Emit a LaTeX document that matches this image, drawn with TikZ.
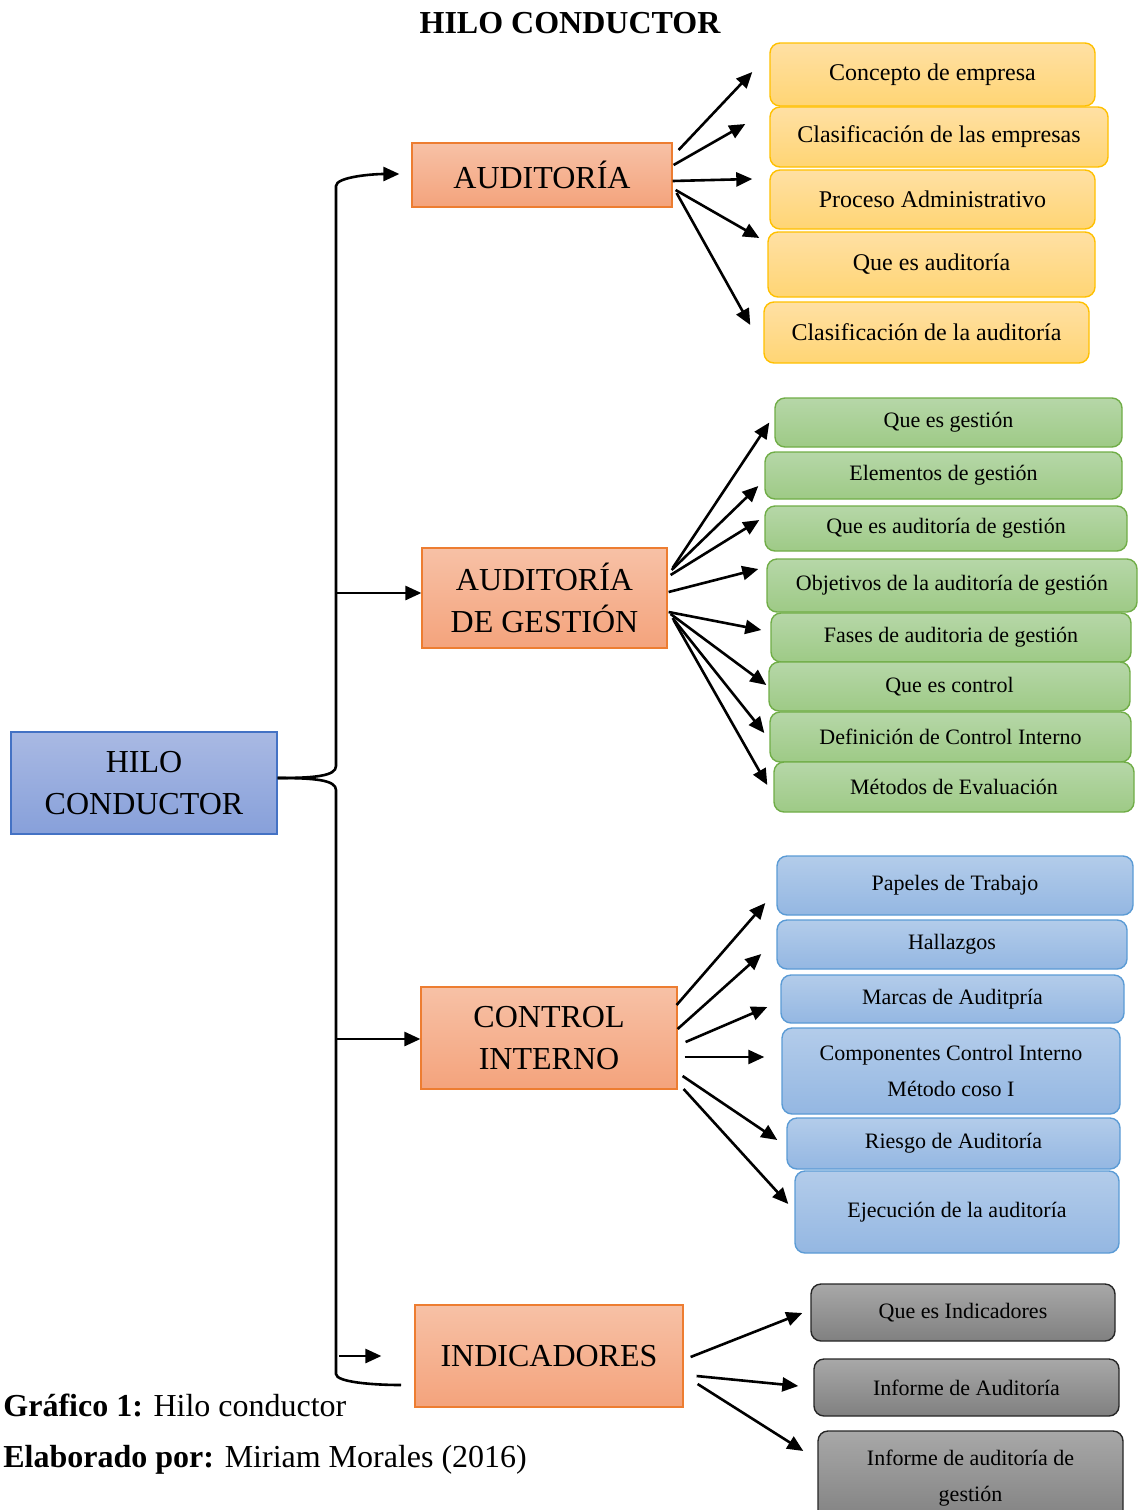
\documentclass[tikz,border=0pt]{standalone}
\usepackage{fontspec}
\setmainfont{Liberation Serif}
\usetikzlibrary{arrows.meta,calc}

\definecolor{naranjaA}{HTML}{F7C1A6}
\definecolor{naranjaB}{HTML}{F4A37C}
\definecolor{naranjaL}{HTML}{ED7D31}
\definecolor{hiloA}{HTML}{A9B9E3}
\definecolor{hiloB}{HTML}{87A0DA}
\definecolor{hiloL}{HTML}{4472C4}
\definecolor{amaA}{HTML}{FFE0A4}
\definecolor{amaB}{HTML}{FFD574}
\definecolor{amaL}{HTML}{FFC000}
\definecolor{verA}{HTML}{B6D7A8}
\definecolor{verB}{HTML}{9ECA86}
\definecolor{verL}{HTML}{70AD47}
\definecolor{azuA}{HTML}{B3CCEA}
\definecolor{azuB}{HTML}{94B7E2}
\definecolor{azuL}{HTML}{5B9BD5}
\definecolor{grisA}{HTML}{A8A8A8}
\definecolor{grisB}{HTML}{808080}
\definecolor{grisL}{HTML}{262626}

\tikzset{
  linea/.style={line width=1.3pt},
  arr/.style={linea, -{Triangle[length=8pt,width=7pt]}},
  tema/.style={draw=naranjaL, line width=0.6pt, top color=naranjaA, bottom color=naranjaB,
    align=center, inner sep=0pt, font=\fontsize{16}{21}\selectfont},
  sub/.style={rounded corners=5pt, line width=0.7pt, align=center, inner sep=0pt,
    font=\fontsize{11}{18}\selectfont},
  amarillo/.style={sub, draw=amaL, top color=amaA, bottom color=amaB, font=\fontsize{12}{14}\selectfont},
  verde/.style={sub, draw=verL, top color=verA, bottom color=verB},
  azul/.style={sub, draw=azuL, top color=azuA, bottom color=azuB},
  gris/.style={sub, draw=grisL, top color=grisA, bottom color=grisB},
}

\begin{document}
\begin{tikzpicture}[x=0.5pt, y=-0.5pt]
	\useasboundingbox (0,0) rectangle (1137,1510);
	
	% 1. titulo
	\node[font=\bfseries\fontsize{16}{19}\selectfont] (titulo) at (570,23) {HILO CONDUCTOR};
	
	% 2. nodo central y temas
	\node[draw=hiloL, line width=0.6pt, top color=hiloA, bottom color=hiloB, align=center, inner sep=0pt,
	  font=\fontsize{16}{21}\selectfont, minimum width=133pt, minimum height=51pt] (hilo) at (144,783) {HILO\\CONDUCTOR};
	\node[tema, minimum width=130pt, minimum height=32pt] (aud) at (542,175) {AUDITORÍA};
	\node[tema, minimum width=122.5pt, minimum height=50pt] (ag) at (544.5,598) {AUDITORÍA\\DE GESTIÓN};
	\node[tema, minimum width=128pt, minimum height=51pt] (ci) at (549,1038) {CONTROL\\INTERNO};
	\node[tema, minimum width=134pt, minimum height=51pt] (ind) at (549,1356) {INDICADORES};
	
	% 3. subtemas de auditoria
	\node[amarillo, minimum width=162.5pt, minimum height=31.5pt] (y1) at (932.5,74.5) {Concepto de empresa};
	\node[amarillo, minimum width=169pt, minimum height=30pt] (y2) at (939,137) {Clasificación de las empresas};
	\node[amarillo, minimum width=162.5pt, minimum height=29.5pt] (y3) at (932.5,199.5) {Proceso Administrativo};
	\node[amarillo, minimum width=163.5pt, minimum height=32.5pt] (y4) at (931.5,264.5) {Que es auditoría};
	\node[amarillo, minimum width=162.5pt, minimum height=30.5pt] (y5) at (926.5,332.5) {Clasificación de la auditoría};
	
	% 4. subtemas de auditoria de gestion
	\node[verde, minimum width=173.5pt, minimum height=24.5pt] (g1) at (948.5,422.5) {Que es gestión};
	\node[verde, minimum width=178.5pt, minimum height=23.5pt] (g2) at (943.5,475.5) {Elementos de gestión};
	\node[verde, minimum width=181pt, minimum height=22.5pt] (g3) at (946,528.5) {Que es auditoría de gestión};
	\node[verde, minimum width=185pt, minimum height=26.5pt] (g4) at (952,585.5) {Objetivos de la auditoría de gestión};
	\node[verde, minimum width=180pt, minimum height=24.5pt] (g5) at (951,637.5) {Fases de auditoria de gestión};
	\node[verde, minimum width=180.5pt, minimum height=24.5pt] (g6) at (949.5,686.5) {Que es control};
	\node[verde, minimum width=180.5pt, minimum height=25pt] (g7) at (950.5,737) {Definición de Control Interno};
	\node[verde, minimum width=180pt, minimum height=25pt] (g8) at (954,787) {Métodos de Evaluación};
	
	% 5. subtemas de control interno
	\node[azul, minimum width=178pt, minimum height=29.5pt] (b1) at (955,885.5) {Papeles de Trabajo};
	\node[azul, minimum width=175pt, minimum height=24.5pt] (b2) at (952,944.5) {Hallazgos};
	\node[azul, minimum width=171.5pt, minimum height=24pt] (b3) at (952.5,999) {Marcas de Auditpría};
	\node[azul, minimum width=169pt, minimum height=43pt] (b4) at (951,1071) {Componentes Control Interno\\Método coso I};
	\node[azul, minimum width=166.5pt, minimum height=25.5pt] (b5) at (953.5,1143.5) {Riesgo de Auditoría};
	\node[azul, minimum width=162pt, minimum height=41pt] (b6) at (957,1212) {Ejecución de la auditoría};
	
	% 6. subtemas de indicadores
	\node[gris, minimum width=152pt, minimum height=28.5pt] (k1) at (963,1312.5) {Que es Indicadores};
	\node[gris, minimum width=152.5pt, minimum height=28.5pt] (k2) at (966.5,1387.5) {Informe de Auditoría};
	\node[gris, minimum width=152.5pt, minimum height=47pt] (k3) at (970.5,1478) {Informe de auditoría de\\gestión};
	
	% 7. llave desde el hilo conductor
	\coordinate (hb) at ($(hilo.east)+(0,-5)$);
	\coordinate (brfin) at (401,1385);
	\draw[arr] (hb) .. controls (315,778) and (336,776) .. (336,766) -- (336,186)
	  .. controls (336,177) and (372,174) .. ($(aud.west)+(-12,-1)$);
	\draw[linea] (hb) .. controls (315,778) and (336,780) .. (336,790) -- (336,1374)
	  .. controls (336,1382) and (372,1385) .. (brfin);
	\coordinate (t2) at (336,593);
	\coordinate (t3) at (335,1039);
	\coordinate (t4) at (339,1356);
	\draw[arr] (t2) -- (t2 -| ag.west);
	\draw[arr] (t3) -- (t3 -| ci.west);
	\draw[arr, shorten >=16.5pt] (t4) -- (t4 -| ind.west);
	
	% 8. flechas a los subtemas
	\foreach \n/\sx/\sy/\ex/\ey in {y1/6/-25/-17/-2.5, y2/1/-10/-24/-13, y3/0/6/-17/-20.5,
	  y4/3/15/-8/-26.5, y5/4/18/-13/-7.5}
	  \draw[arr] ($(aud.east)+(\sx,\sy)$) -- ($(\n.west)+(\ex,\ey)$);
	\foreach \n/\sx/\sy/\ex/\ey in {g1/5/-30/-5/0, g2/4/-28/-6/10.5, g3/3/-23/-5/-8.5, g4/1/-6/-8/-16.5,
	  g5/1/14/-9/-7.5, g6/3/16/-2/-1.5, g7/5/20/-5/-4, g8/6/22/-6/-2}
	  \draw[arr] ($(ag.east)+(\sx,\sy)$) -- ($(\n.west)+(\ex,\ey)$);
	\foreach \n/\sx/\sy/\ex/\ey in {b1/-1/-33/-11/17.5, b2/0/-9/-15/9.5, b3/8/4/-13/8,
	  b4/7/19/-17/-14, b5/5/38/-9/-3.5, b6/6/51/-6/-8}
	  \draw[arr] ($(ci.east)+(\sx,\sy)$) -- ($(\n.west)+(\ex,\ey)$);
	\foreach \n/\sx/\sy/\ex/\ey in {k1/7/1/-8/0.5, k2/13/20/-15/-1.5, k3/14/28/-14/-27}
	  \draw[arr] ($(ind.east)+(\sx,\sy)$) -- ($(\n.west)+(\ex,\ey)$);
	
	% 9. pie del grafico
	\node[anchor=west, inner sep=0pt, font=\fontsize{16}{19}\selectfont] (graf) at (3,1405) {\textbf{Gráfico 1:} Hilo conductor};
	\node[anchor=west, inner sep=0pt, font=\fontsize{16}{19}\selectfont] (elab) at (3,1460) {\textbf{Elaborado por:} Miriam Morales (2016)};
\end{tikzpicture}
\end{document}
